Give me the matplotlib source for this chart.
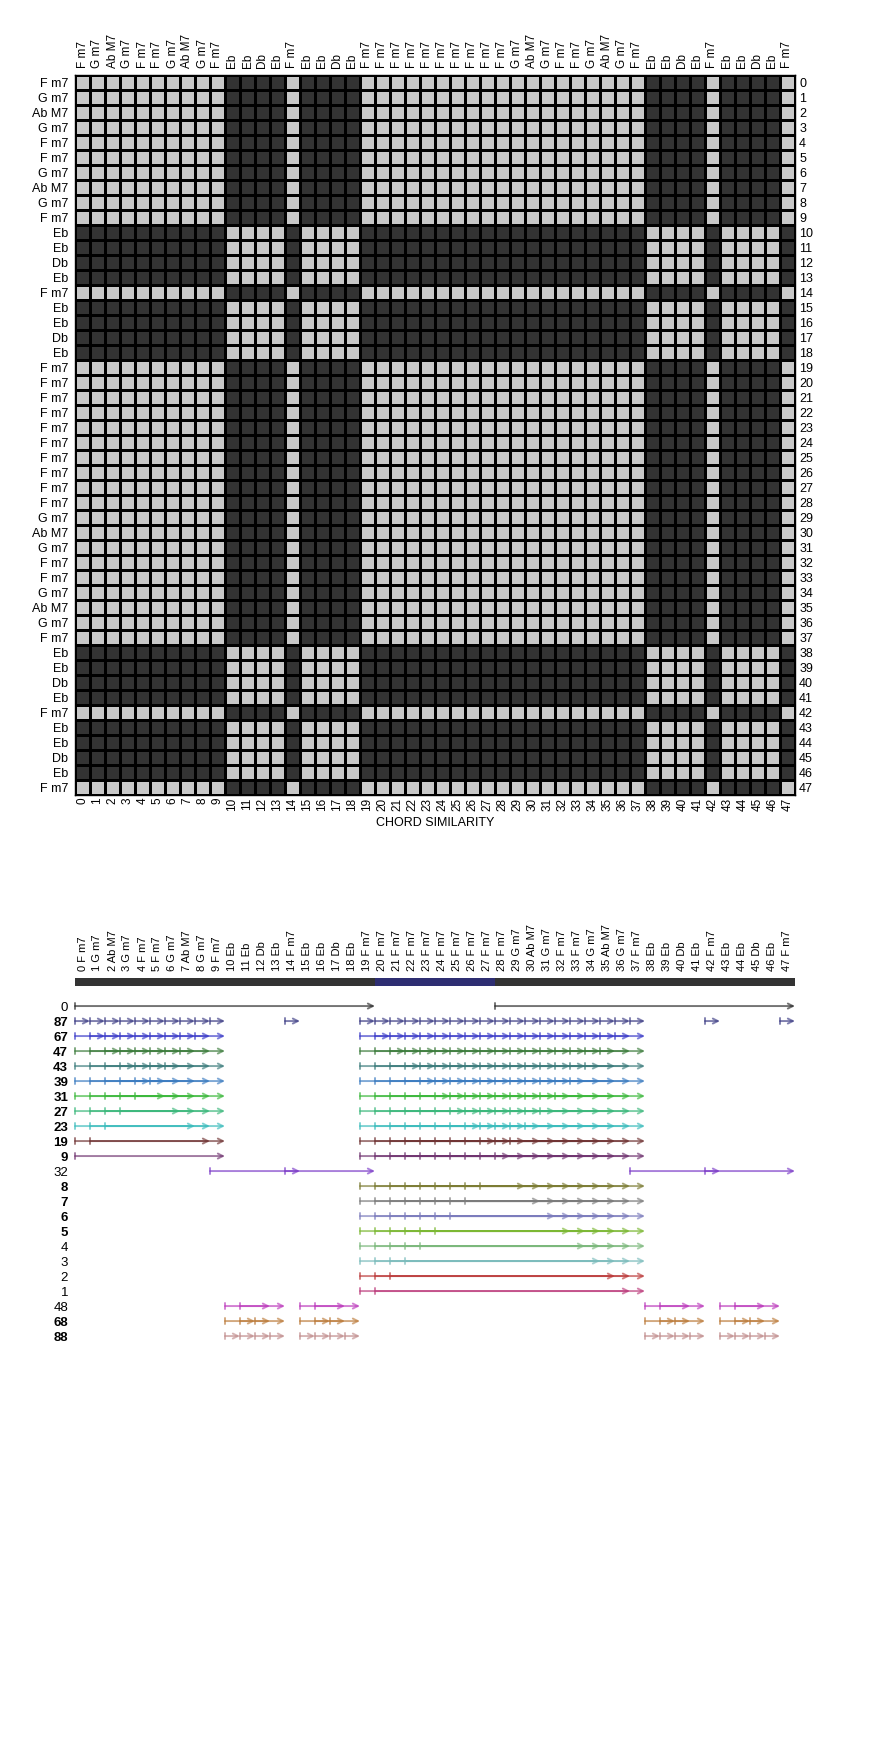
import numpy as np
import matplotlib
matplotlib.use('Agg')
from matplotlib import pyplot as plt
from matplotlib.colors import ListedColormap
from matplotlib.patches import ArrowStyle

plt.rcParams['font.family'] = ['Liberation Sans', 'DejaVu Sans']

# chord sequence (48 frames)
chords = ['F m7', 'G m7', 'Ab M7', 'G m7', 'F m7', 'F m7', 'G m7', 'Ab M7', 'G m7', 'F m7',
          'Eb', 'Eb', 'Db', 'Eb', 'F m7', 'Eb', 'Eb', 'Db', 'Eb',
          'F m7', 'F m7', 'F m7', 'F m7', 'F m7', 'F m7', 'F m7', 'F m7', 'F m7', 'F m7',
          'G m7', 'Ab M7', 'G m7', 'F m7', 'F m7', 'G m7', 'Ab M7', 'G m7', 'F m7',
          'Eb', 'Eb', 'Db', 'Eb', 'F m7', 'Eb', 'Eb', 'Db', 'Eb', 'F m7']

# chords in the same family count as similar
chord_family = {'F m7': 0, 'G m7': 0, 'Ab M7': 0, 'Eb': 1, 'Db': 1}

# top bar of the segment panel
bar_starts = [0, 20, 28]
bar_lengths = [20, 8, 20]
bar_colors = ['#333333', '#2e2e72', '#333333']

# repeated patterns: label, pattern length, runs of start positions (first, last)
row_labels = ['0', '87', '67', '47', '43', '39', '31', '27', '23', '19', '9', '32',
              '8', '7', '6', '5', '4', '3', '2', '1', '48', '68', '88']
row_lengths = [20, 1, 2, 3, 4, 5, 6, 7, 8, 9, 10, 6,
               11, 12, 13, 14, 15, 16, 17, 18, 3, 2, 1]
row_runs = [
    [(0, 0), (28, 28)],
    [(0, 9), (14, 14), (19, 37), (42, 42), (47, 47)],
    [(0, 8), (19, 36)],
    [(0, 7), (19, 35)],
    [(0, 6), (19, 34)],
    [(0, 5), (19, 33)],
    [(0, 4), (19, 32)],
    [(0, 3), (19, 31)],
    [(0, 2), (19, 30)],
    [(0, 1), (19, 29)],
    [(0, 0), (19, 28)],
    [(9, 9), (14, 14), (37, 37), (42, 42)],
    [(19, 27)],
    [(19, 26)],
    [(19, 25)],
    [(19, 24)],
    [(19, 23)],
    [(19, 22)],
    [(19, 21)],
    [(19, 20)],
    [(10, 11), (15, 16), (38, 39), (43, 44)],
    [(10, 12), (15, 17), (38, 40), (43, 45)],
    [(10, 13), (15, 18), (38, 41), (43, 46)],
]
row_colors = ['#2a2a2a', '#3c3c84', '#3c3cc8', '#3c7c3c', '#3c7c7c', '#3c7cc0',
              '#3cb83c', '#3cb87c', '#3cbcbc', '#703434', '#703470', '#7c3cc8',
              '#7c7c34', '#7c7c7c', '#7c7cbc', '#7cb834', '#7cb87c', '#7cbcbc',
              '#bc3c3c', '#bc3c7c', '#bc3cbc', '#bc7c3c', '#c08c8c']
row_bold = ['87', '67', '47', '43', '39', '31', '27', '23', '19', '9',
            '8', '7', '6', '5', '68', '88']

n = len(chords)
fam = np.array([chord_family[c] for c in chords])
sim = (fam[:, None] == fam[None, :]).astype(int)

fig = plt.figure(figsize=(8.7, 17.6), dpi=100)
W, H = 870.0, 1760.0

# ---- similarity matrix ----
ax = fig.add_axes([75 / W, 1 - 795 / H, 720 / W, 720 / H])
ax.pcolormesh(np.arange(n + 1), np.arange(n + 1), sim,
              cmap=ListedColormap(['#333333', '#c8c8c8']),
              edgecolors='black', linewidth=0.8)
ax.set_xlim(0, n)
ax.set_ylim(n, 0)
for s in ax.spines.values():
    s.set_linewidth(1.0)

ax.set_yticks(np.arange(n) + 0.5, labels=chords, fontsize=9)
ax.set_xticks(np.arange(n) + 0.5, labels=[str(i) for i in range(n)],
              fontsize=8.5, rotation=90)
ax.tick_params(axis='y', length=0, pad=5)
ax.tick_params(axis='x', length=0, pad=2)
ax.set_xlabel('CHORD SIMILARITY', fontsize=9, labelpad=4)

top = ax.secondary_xaxis('top')
top.set_xticks(np.arange(n) + 0.5, labels=chords, fontsize=8.5, rotation=90)
top.tick_params(length=0, pad=5)
top.spines['top'].set_visible(False)

right = ax.secondary_yaxis('right')
right.set_yticks(np.arange(n) + 0.5, labels=[str(i) for i in range(n)], fontsize=9)
right.tick_params(length=0, pad=3)
right.spines['right'].set_visible(False)

# ---- repeated segments ----
y_top, y_bot = -2.27, 22.93
ax2 = fig.add_axes([75 / W, 1 - 1350 / H, 720 / W, 378 / H])
ax2.set_xlim(0, n)
ax2.set_ylim(y_bot, y_top)
for s in ax2.spines.values():
    s.set_visible(False)

ax2.barh(np.full(len(bar_starts), -1.6), bar_lengths, left=bar_starts,
         height=0.58, color=bar_colors, linewidth=0)

style = ArrowStyle(']->', widthA=0.25, lengthA=0)
for k, (length, runs, color) in enumerate(zip(row_lengths, row_runs, row_colors)):
    for first, last in runs:
        for s0 in range(first, last + 1):
            ax2.annotate('', xy=(s0 + length, k), xytext=(s0, k),
                         arrowprops=dict(arrowstyle=style, color=color, alpha=0.65,
                                         lw=1.4, shrinkA=0, shrinkB=0,
                                         mutation_scale=9),
                         annotation_clip=False)

ax2.set_yticks(np.arange(len(row_labels)), labels=row_labels, fontsize=9.5)
for lab in ax2.get_yticklabels():
    if lab.get_text() in row_bold:
        lab.set_fontweight('bold')
ax2.tick_params(axis='y', length=0, pad=5)

ax2.xaxis.tick_top()
ax2.set_xticks(np.arange(n) + 0.5, labels=['%d %s' % (i, c) for i, c in enumerate(chords)],
               fontsize=8, rotation=90)
ax2.tick_params(axis='x', length=0, pad=1)

fig.savefig('out.png', dpi=100)
